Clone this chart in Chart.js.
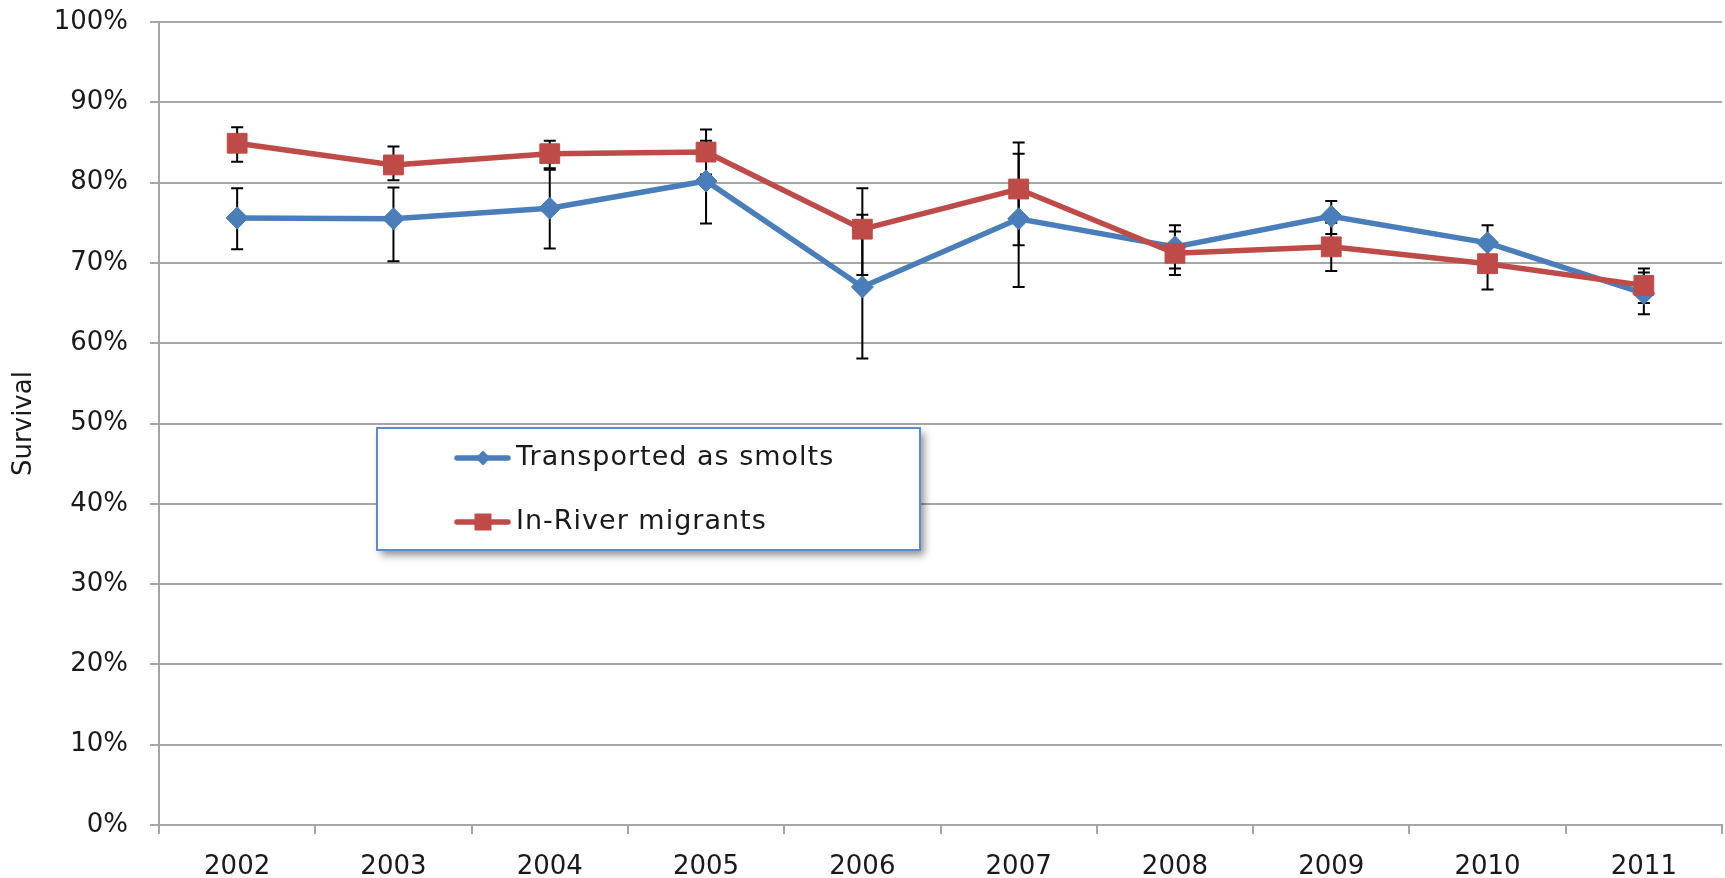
<!DOCTYPE html>
<html>
<head>
<meta charset="utf-8">
<script src="https://cdn.jsdelivr.net/npm/chart.js@4/dist/chart.umd.min.js"></script>
<style>
	html, body {
		margin: 0;
		padding: 0;
		background: #fff;
		overflow: hidden;
	}
</style>
</head>
<body>
<canvas id="statisticSurvival" width="1737" height="878"></canvas>
<script>
const years = ["2002", "2003", "2004", "2005", "2006", "2007", "2008", "2009", "2010", "2011"];
const yTicks = [0, 10, 20, 30, 40, 50, 60, 70, 80, 90, 100];

const transported = [75.6, 75.5, 76.8, 80.2, 67.0, 75.5, 72.0, 75.8, 72.5, 66.2];
const transportedHigh = [79.3, 79.4, 81.6, 85.2, 76.0, 83.6, 74.7, 77.7, 74.7, 68.8];
const transportedLow = [71.7, 70.2, 71.8, 74.9, 58.1, 67.0, 69.3, 73.6, 70.3, 63.6];

const inRiver = [84.9, 82.2, 83.6, 83.8, 74.2, 79.2, 71.2, 72.0, 69.9, 67.2];
const inRiverHigh = [86.9, 84.5, 85.2, 86.6, 79.3, 85.0, 73.9, 75.0, 73.1, 69.3];
const inRiverLow = [82.6, 80.3, 81.8, 81.0, 68.5, 72.2, 68.5, 69.0, 66.7, 65.0];

const blue = "#4a7ebb";
const red = "#be4b48";
const gridGrey = "#a6a6a6";
const textColor = "#1a1a1a";
const fontFamily = "'DejaVu Sans', sans-serif";

// Barras de error dibujadas antes de las lineas
const errorBars = {
	id: "errorBars",
	beforeDatasetsDraw(chart) {
		const ctx = chart.ctx;
		const x = chart.scales.x;
		const y = chart.scales.y;
		const ranges = [
			[transportedLow, transportedHigh],
			[inRiverLow, inRiverHigh],
		];
		ctx.save();
		ctx.strokeStyle = "#000";
		ctx.lineWidth = 2;
		ranges.forEach(([low, high]) => {
			years.forEach((year, i) => {
				const px = x.getPixelForValue(i);
				const top = y.getPixelForValue(high[i]);
				const bottom = y.getPixelForValue(low[i]);
				ctx.beginPath();
				ctx.moveTo(px, top);
				ctx.lineTo(px, bottom);
				ctx.moveTo(px - 6, top);
				ctx.lineTo(px + 6, top);
				ctx.moveTo(px - 6, bottom);
				ctx.lineTo(px + 6, bottom);
				ctx.stroke();
			});
		});
		ctx.restore();
	},
};

// Leyenda con caja y sombra dentro del area
const boxLegend = {
	id: "boxLegend",
	afterDraw(chart) {
		const ctx = chart.ctx;
		const area = chart.chartArea;
		const bx = area.left + 218;
		const by = area.top + 406;
		const bw = 543;
		const bh = 122;
		ctx.save();
		ctx.shadowColor = "rgba(0, 0, 0, 0.45)";
		ctx.shadowBlur = 8;
		ctx.shadowOffsetX = 4;
		ctx.shadowOffsetY = 5;
		ctx.fillStyle = "#fff";
		ctx.fillRect(bx, by, bw, bh);
		ctx.restore();

		ctx.save();
		ctx.strokeStyle = "#5b8ccb";
		ctx.lineWidth = 2;
		ctx.strokeRect(bx, by, bw, bh);

		const items = [
			{label: "Transported as smolts", color: blue, shape: "diamond"},
			{label: "In-River migrants", color: red, shape: "square"},
		];
		items.forEach((item, i) => {
			const cy = by + 30 + i * 64;
			const x0 = bx + 80;
			const x1 = bx + 131;
			const cx = bx + 106;
			ctx.strokeStyle = item.color;
			ctx.fillStyle = item.color;
			ctx.lineWidth = 5.5;
			ctx.lineCap = "round";
			ctx.beginPath();
			ctx.moveTo(x0, cy);
			ctx.lineTo(x1, cy);
			ctx.stroke();
			ctx.beginPath();
			if (item.shape === "diamond") {
				ctx.moveTo(cx - 7.5, cy);
				ctx.lineTo(cx, cy - 7.5);
				ctx.lineTo(cx + 7.5, cy);
				ctx.lineTo(cx, cy + 7.5);
				ctx.closePath();
			} else {
				ctx.rect(cx - 8.5, cy - 8.5, 17, 17);
			}
			ctx.fill();
			ctx.fillStyle = textColor;
			ctx.font = `27px ${fontFamily}`;
			ctx.letterSpacing = "1px";
			ctx.textBaseline = "middle";
			ctx.textAlign = "left";
			ctx.fillText(item.label, bx + 139, cy);
			ctx.letterSpacing = "0px";
		});
		ctx.restore();
	},
};

const whiteBackground = {
	id: "whiteBackground",
	beforeDraw(chart) {
		const ctx = chart.ctx;
		ctx.save();
		ctx.fillStyle = "#fff";
		ctx.fillRect(0, 0, chart.width, chart.height);
		ctx.restore();
	},
};

const statisticSurvival = () => {
	let canvas = document.getElementById("statisticSurvival").getContext("2d");
	const data = {
		labels: years,
		datasets: [
			{
				label: "Transported as smolts",
				data: transported,
				borderColor: blue,
				backgroundColor: blue,
				borderWidth: 5.5,
				pointStyle: "rectRot",
				pointRadius: 11,
				pointBorderWidth: 1,
				pointBorderColor: blue,
				pointBackgroundColor: blue,
				tension: 0,
				order: 1,
			},
			{
				label: "In-River migrants",
				data: inRiver,
				borderColor: red,
				backgroundColor: red,
				borderWidth: 5.5,
				pointStyle: "rect",
				pointRadius: 14,
				pointBorderWidth: 1,
				pointBorderColor: red,
				pointBackgroundColor: red,
				tension: 0,
				order: 0,
			},
		],
	};
	const config = {
		type: "line",
		data: data,
		plugins: [whiteBackground, errorBars, boxLegend],
		options: {
			responsive: false,
			animation: false,
			events: [],
			layout: {
				padding: {top: 22, right: 0, left: 0, bottom: 0},
			},
			scales: {
				x: {
					offset: true,
					grid: {
						offset: true,
						drawOnChartArea: false,
						drawTicks: true,
						tickLength: 9,
						color: gridGrey,
						lineWidth: 2,
					},
					border: {color: gridGrey, width: 2},
					ticks: {
						color: textColor,
						font: {family: fontFamily, size: 26},
						padding: 18,
						maxRotation: 0,
					},
					afterFit(scale) {
						scale.height = 53;
					},
				},
				y: {
					min: 0,
					max: 100,
					afterBuildTicks(scale) {
						scale.ticks = yTicks.map((v) => ({value: v}));
					},
					grid: {
						color: gridGrey,
						lineWidth: 2,
						drawTicks: true,
						tickLength: 9,
					},
					border: {color: gridGrey, width: 2},
					ticks: {
						color: textColor,
						font: {family: fontFamily, size: 26},
						padding: 22,
						callback: (value) => `${value}%`,
					},
					title: {
						display: true,
						text: "Survival",
						color: textColor,
						font: {family: fontFamily, size: 26},
						padding: {top: 9, bottom: 0},
					},
					afterFit(scale) {
						// el padding de las etiquetas empuja el area hacia abajo
						scale.width = 159;
						scale.paddingTop = 0;
						scale.paddingBottom = 0;
					},
				},
			},
			plugins: {
				legend: {
					display: false,
				},
				tooltip: {
					enabled: false,
				},
			},
		},
	};
	new Chart(canvas, config);
};
statisticSurvival();
</script>
</body>
</html>
